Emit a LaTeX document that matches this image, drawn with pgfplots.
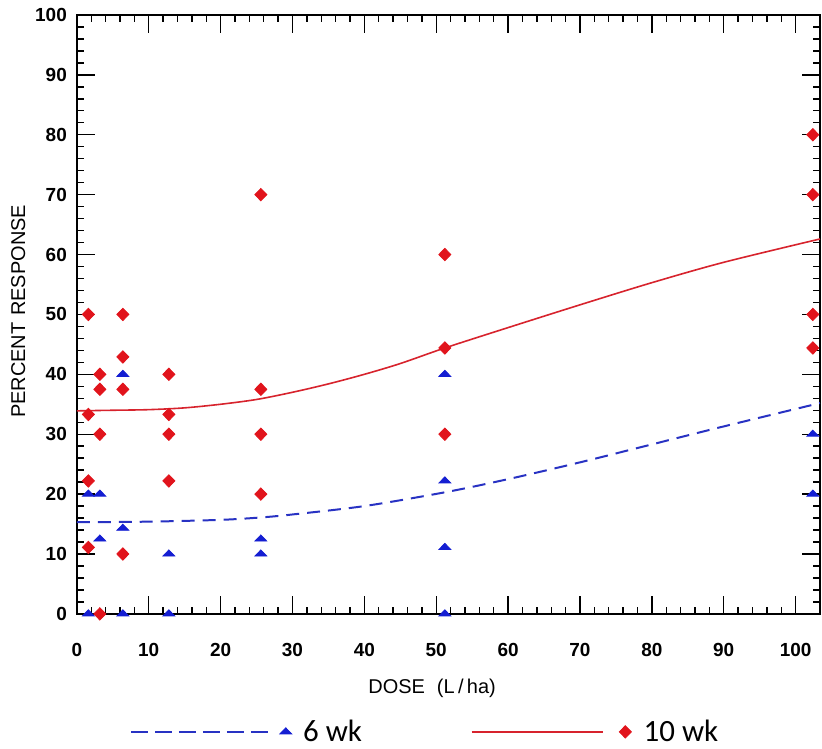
\documentclass[border=0pt]{standalone}
\usepackage{pgfplots}
\pgfplotsset{compat=1.18}
\usepackage{fontspec}
\setmainfont{Liberation Sans}
\newfontfamily\carlito{Carlito}
\definecolor{mred}{RGB}{225,20,28}
\definecolor{mblue}{RGB}{20,30,210}
\definecolor{lred}{RGB}{215,35,45}
\definecolor{lblue}{RGB}{40,50,195}
\begin{document}
\begin{tikzpicture}
\begin{axis}[
  name=ax,
  scale only axis,
  width=372.25pt, height=300pt,
  xmin=0, xmax=103.4, ymin=0, ymax=100,
  xtick={0,10,...,100}, ytick={0,10,...,100},
  minor tick num=4,
  tick align=inside,
  major tick length=9pt, minor tick length=3.5pt,
  axis line style={line width=0.8pt, black},
  every tick/.style={black, line width=0.7pt},
  /pgf/number format/assume math mode=true,
  ticklabel style={font=\fontsize{9.5}{11}\selectfont\bfseries},
  xticklabel style={yshift=-11pt},
  yticklabel style={xshift=-1.5pt},
  xlabel={DOSE\hspace{6pt}(L\,/\,ha)},
  ylabel={PERCENT\,\,RESPONSE},
  label style={font=\fontsize{10.5}{12}\selectfont},
  every axis x label/.style={at={(axis description cs:0.478,-0.125)}, anchor=center},
  every axis y label/.style={at={(axis description cs:-0.079,0.505)}, rotate=90, anchor=center},
  legend columns=2,
  legend style={draw=none, fill=none, font=\carlito\fontsize{15.5}{17}\selectfont,
    at={(axis description cs:0.47,-0.197)}, anchor=center,
    /tikz/every even column/.append style={column sep=52.5pt}},
]
% fitted curves
\addplot[lblue, line width=1pt, dash pattern=on 6.5pt off 4pt, smooth, forget plot] coordinates {
 (0,15.3) (10,15.4) (20,15.7) (25.6,16.1) (30,16.6) (40,18.0) (51.2,20.3)
 (60,22.5) (70,25.3) (80,28.3) (90,31.3) (103.4,35.2)};
\addplot[lred, line width=0.8pt, smooth, forget plot] coordinates {
 (0,33.9) (5,34.0) (10,34.1) (15,34.4) (20,35.0) (25,35.8) (30,37.0) (35,38.4)
 (40,40.0) (45,41.8) (51.2,44.4) (60,47.8) (70,51.6) (80,55.3) (90,58.7) (103.4,62.6)};
% 6 wk observations
\addplot[only marks, mark=triangle*, mark size=3.4pt, color=mblue, mark options={yscale=0.6}, forget plot] coordinates {
 (1.6,20) (1.6,0)
 (3.2,20) (3.2,12.5)
 (6.4,40) (6.4,14.3) (6.4,0)
 (12.8,10) (12.8,0)
 (25.6,12.5) (25.6,10)
 (51.2,40) (51.2,22.2) (51.2,11.1) (51.2,0)
 (102.4,30) (102.4,20)};
% 10 wk observations
\addplot[only marks, mark=diamond*, mark size=3.1pt, color=mred, mark options={xscale=1.3}, forget plot] coordinates {
 (1.6,50) (1.6,33.3) (1.6,22.2) (1.6,11.1)
 (3.2,40) (3.2,37.5) (3.2,30) (3.2,0)
 (6.4,50) (6.4,42.9) (6.4,37.5) (6.4,10)
 (12.8,40) (12.8,33.3) (12.8,30) (12.8,22.2)
 (25.6,70) (25.6,37.5) (25.6,30) (25.6,20)
 (51.2,60) (51.2,44.4) (51.2,30)
 (102.4,80) (102.4,70) (102.4,50) (102.4,44.4)};
\addlegendimage{legend image code/.code={
    \draw[lblue, line width=1pt, dash pattern=on 8.5pt off 3.5pt] (0pt,0pt) -- (70pt,0pt);
    \draw[mblue] plot[mark=triangle*, mark size=3.4pt, mark options={yscale=0.6, fill=mblue}] coordinates {(77.5pt,0pt)};
    \path (84pt,0pt);}}
\addlegendentry{6 wk}
\addlegendimage{legend image code/.code={
    \draw[lred, line width=0.8pt] (0pt,0pt) -- (66pt,0pt);
    \draw[mred] plot[mark=diamond*, mark size=3.1pt, mark options={xscale=1.3, fill=mred}] coordinates {(77pt,0pt)};
    \path (84pt,0pt);}}
\addlegendentry{10 wk}
\end{axis}
\pgfresetboundingbox
\path ([xshift=-38.5pt,yshift=-67.5pt]ax.south west) rectangle ([xshift=1pt,yshift=7.5pt]ax.north east);
\end{tikzpicture}
\end{document}
